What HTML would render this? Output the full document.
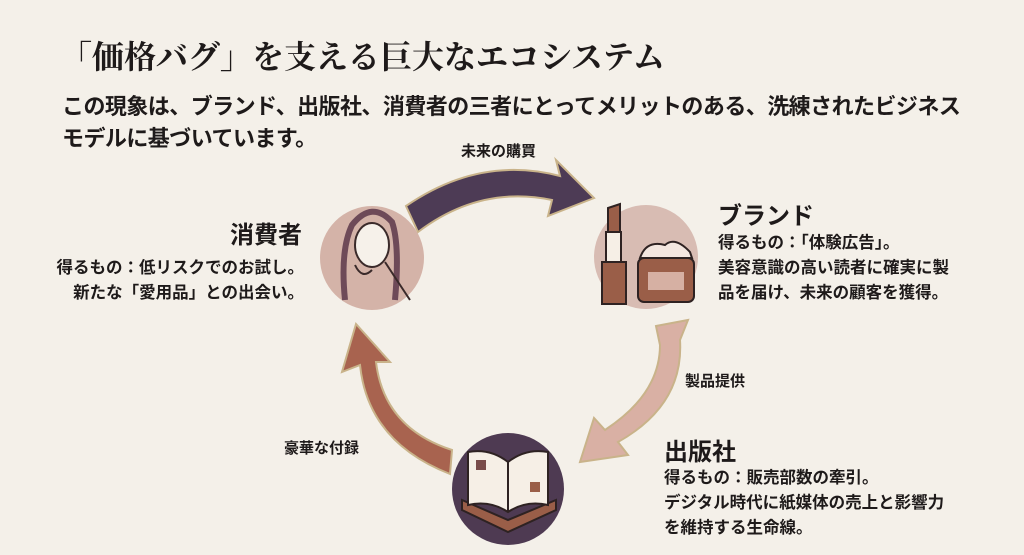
<!DOCTYPE html>
<html><head><meta charset="utf-8"><style>
body{margin:0;width:1024px;height:555px;background:#f4f0e9;overflow:hidden;position:relative;font-family:"Liberation Sans","Noto Sans CJK JP",sans-serif;color:#1e1a1a}
.t{position:absolute;white-space:nowrap}
.h{font-weight:bold;font-size:24px}
.s{font-size:16.5px;font-weight:bold;line-height:25px}
</style></head><body>
<div class="t" style="left:60px;top:32px;font-family:'Liberation Serif','Noto Serif CJK JP',serif;font-size:32px;font-weight:bold;letter-spacing:0px">「価格バグ」を支える巨大なエコシステム</div>
<div class="t" style="left:62px;top:91px;font-size:22px;font-weight:bold;line-height:32px;letter-spacing:-0.55px">この現象は、ブランド、出版社、消費者の三者にとってメリットのある、洗練されたビジネス<br>モデルに基づいています。</div>

<svg width="1024" height="555" style="position:absolute;left:0;top:0">
<!-- top arrow -->
<path d="M406,206 Q480,155 560,176 L556,160 L594,198 L548,216 L552,200 Q480,185 418,232 Z" fill="#4d3b55" stroke="#c9b38a" stroke-width="2"/>
<!-- right arrow -->
<path d="M656,326 L688,320 L680,340 Q684,405 618,442 L628,455 L580,462 L594,418 L605,430 Q660,394 660,345 Z" fill="#d9b0a4" stroke="#c9b38a" stroke-width="2"/>
<!-- left arrow -->
<path d="M450,474 Q368,442 360,365 L342,372 L356,324 L390,362 L376,362 Q384,428 452,450 Z" fill="#a8634f" stroke="#c9b38a" stroke-width="2"/>
<!-- circles -->
<circle cx="372" cy="258" r="52" fill="#d4b3a8"/>
<circle cx="646" cy="257" r="52" fill="#d8bcb3"/>
<circle cx="508" cy="489" r="56" fill="#4e3a52"/>
<!-- woman -->
<ellipse cx="372" cy="245" rx="17" ry="22" fill="#f6f1ea" stroke="#3a2a2a" stroke-width="2"/>
<path d="M345,300 Q340,250 352,225 Q372,200 392,222 Q400,245 395,300" fill="none" stroke="#6e4a58" stroke-width="6"/>
<path d="M355,265 Q362,280 372,270 M385,262 Q400,285 410,300" fill="none" stroke="#3a2a2a" stroke-width="2"/>
<!-- lipstick & jar -->
<rect x="602" y="262" width="24" height="42" fill="#9a5e48" stroke="#2e2222" stroke-width="2"/>
<rect x="606" y="232" width="15" height="30" fill="#f6efe6" stroke="#2e2222" stroke-width="2"/>
<path d="M608,232 L608,208 L620,204 L620,232 Z" fill="#9a5e48" stroke="#2e2222" stroke-width="2"/>
<path d="M640,258 Q646,240 665,245 Q675,236 690,252 L692,258 Z" fill="#f3e6df" stroke="#2e2222" stroke-width="2"/>
<rect x="638" y="258" width="56" height="44" rx="6" fill="#9a5e48" stroke="#2e2222" stroke-width="2"/>
<rect x="648" y="272" width="36" height="18" fill="#d6b0a3"/>
<!-- book -->
<path d="M462,500 L508,520 L556,500 L556,510 L508,532 L462,510 Z" fill="#9a5e48" stroke="#2e2222" stroke-width="2"/>
<path d="M468,452 Q490,448 508,462 Q526,448 548,452 L548,505 Q526,500 508,512 Q490,500 468,505 Z" fill="#f6efe6" stroke="#2e2222" stroke-width="2"/>
<line x1="508" y1="462" x2="508" y2="512" stroke="#2e2222" stroke-width="2"/>
<rect x="476" y="460" width="10" height="10" fill="#7a4c4a"/>
<rect x="530" y="482" width="10" height="10" fill="#9a5e48"/>
</svg>

<div class="t" style="left:461px;top:140px;font-size:15px;font-weight:bold">未来の購買</div>
<div class="t" style="left:685px;top:370px;font-size:15px;font-weight:bold">製品提供</div>
<div class="t" style="left:284px;top:437px;font-size:15px;font-weight:bold">豪華な付録</div>

<div class="t h" style="left:230px;top:215px">消費者</div>
<div class="t s" style="right:720px;top:256px;text-align:right">得るもの：低リスクでのお試し。<br>新たな「愛用品」との出会い。</div>

<div class="t h" style="left:718px;top:196px">ブランド</div>
<div class="t s" style="left:718px;top:231px">得るもの：「体験広告」。<br>美容意識の高い読者に確実に製<br>品を届け、未来の顧客を獲得。</div>

<div class="t h" style="left:664px;top:432px">出版社</div>
<div class="t s" style="left:664px;top:466px">得るもの：販売部数の牽引。<br>デジタル時代に紙媒体の売上と影響力<br>を維持する生命線。</div>
</body></html>
